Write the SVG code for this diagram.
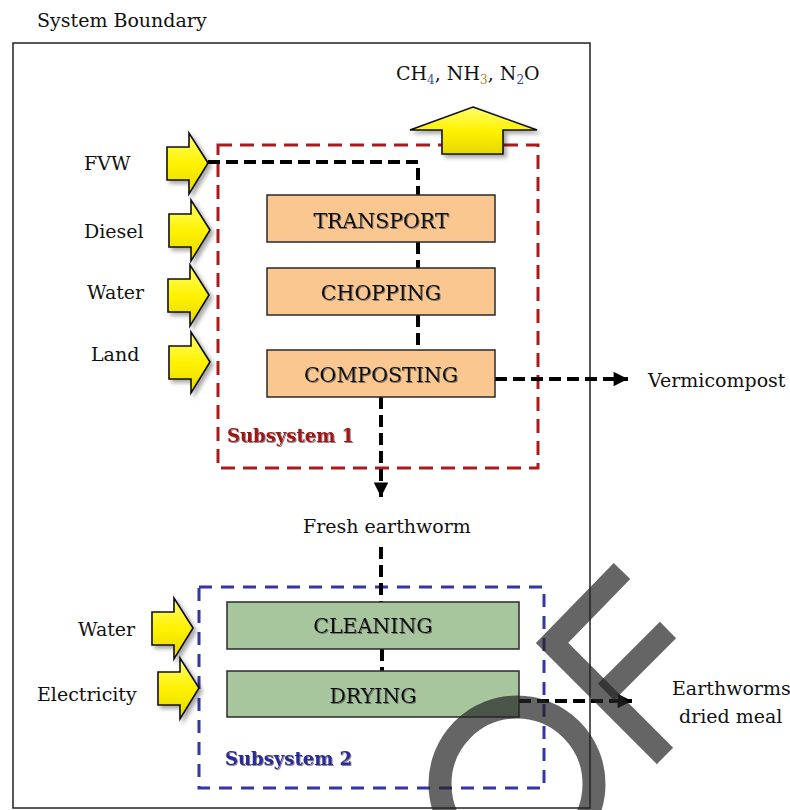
<svg xmlns="http://www.w3.org/2000/svg" width="790" height="810" viewBox="0 0 790 810">
<style>
.lbl{font-family:"DejaVu Serif","Liberation Serif",serif;font-size:19px;fill:#111}
.box-t{font-family:"DejaVu Serif","Liberation Serif",serif;font-size:20.5px;fill:#111;text-anchor:middle;filter:url(#tshadow)}
.sub-t{font-family:"DejaVu Serif","Liberation Serif",serif;font-size:18px;font-weight:bold;filter:url(#tshadow)}
.orange{fill:#F9C78F;stroke:#2a2a2a;stroke-width:1.5}
.green{fill:#A8C69D;stroke:#2a2a2a;stroke-width:1.5}
.flow{fill:none;stroke:#000;stroke-width:4;stroke-dasharray:12 6}
.yarrow{fill:url(#yg);stroke:#111;stroke-width:1.6;stroke-linejoin:miter;filter:url(#shadow)}
.wm{fill:none;stroke:#242424;stroke-opacity:0.7;stroke-width:23}
</style>
<defs>
<linearGradient id="yg" x1="0" y1="0" x2="0" y2="1">
<stop offset="0" stop-color="#FFFF70"/>
<stop offset="0.5" stop-color="#FFF200"/>
<stop offset="1" stop-color="#E6D800"/>
</linearGradient>
<filter id="shadow" x="-30%" y="-30%" width="160%" height="160%">
<feDropShadow dx="3" dy="3" stdDeviation="2" flood-color="#000" flood-opacity="0.35"/>
</filter>
<filter id="tshadow" x="-10%" y="-30%" width="120%" height="160%">
<feDropShadow dx="1" dy="1" stdDeviation="0.6" flood-color="#555" flood-opacity="0.7"/>
</filter>
<path id="rarrow" d="M0,0 L-19,-30 L-19,-16 L-41,-16 L-41,17 L-19,17 L-19,31 Z"/>
<marker id="ah" viewBox="0 0 10 10" refX="10" refY="5" markerWidth="4" markerHeight="3.6" orient="auto" markerUnits="strokeWidth">
<path d="M0,0 L10,5 L0,10 Z" fill="#000"/>
</marker>
</defs>

<g id="system-boundary">
<rect x="13" y="43" width="577" height="765" fill="none" stroke="#222" stroke-width="1.5"/>
<text class="lbl" x="37" y="27" font-size="20.5">System Boundary</text>
</g>

<g id="subsystem1">
<rect x="218" y="145" width="320" height="323" fill="none" stroke="#AA1A1A" stroke-width="3" stroke-dasharray="14 8"/>
<text class="sub-t" x="227" y="442" fill="#A01515">Subsystem 1</text>
</g>

<g id="subsystem2">
<rect x="199" y="587" width="345" height="201" fill="none" stroke="#3535A5" stroke-width="3" stroke-dasharray="13 9"/>
<text class="sub-t" x="225" y="765" fill="#2A2A9A">Subsystem 2</text>
</g>

<g id="emissions">
<polygon class="yarrow" points="473,107 537,130 503,130 503,154 442,154 442,130 410,130"/>
<text class="lbl" x="396" y="80" font-size="19.5">CH<tspan font-size="12" dy="4" fill="#3a5aa0">4</tspan><tspan dy="-4">, NH</tspan><tspan font-size="12" dy="4" fill="#c77a2a">3</tspan><tspan dy="-4">, N</tspan><tspan font-size="12" dy="4" fill="#2a4ab0">2</tspan><tspan dy="-4">O</tspan></text>
</g>

<g id="input-fvw">
<use href="#rarrow" class="yarrow" transform="translate(208,163)"/>
<text class="lbl" x="84" y="170">FVW</text>
</g>
<g id="input-diesel">
<use href="#rarrow" class="yarrow" transform="translate(210,230)"/>
<text class="lbl" x="84" y="238">Diesel</text>
</g>
<g id="input-water1">
<use href="#rarrow" class="yarrow" transform="translate(209,295)"/>
<text class="lbl" x="87" y="299">Water</text>
</g>
<g id="input-land">
<use href="#rarrow" class="yarrow" transform="translate(210,362)"/>
<text class="lbl" x="91" y="361">Land</text>
</g>
<g id="input-water2">
<use href="#rarrow" class="yarrow" transform="translate(193,628)"/>
<text class="lbl" x="78" y="636">Water</text>
</g>
<g id="input-electricity">
<use href="#rarrow" class="yarrow" transform="translate(199,688)"/>
<text class="lbl" x="37" y="701">Electricity</text>
</g>

<g id="connectors">
<polyline class="flow" points="208,162 418,162 418,195"/>
<line class="flow" x1="418" y1="242" x2="418" y2="268"/>
<line class="flow" x1="418" y1="315" x2="418" y2="350"/>
<line class="flow" x1="381" y1="397" x2="381" y2="497" marker-end="url(#ah)"/>
<line class="flow" x1="495" y1="379" x2="628" y2="379" marker-end="url(#ah)"/>
<line class="flow" x1="381" y1="547" x2="381" y2="602"/>
<line class="flow" x1="382" y1="649" x2="382" y2="671"/>
<line class="flow" x1="519" y1="701" x2="632" y2="701" marker-end="url(#ah)"/>
</g>

<g id="transport">
<rect class="orange" x="267" y="195" width="228" height="47"/>
<text class="box-t" x="381" y="228">TRANSPORT</text>
</g>
<g id="chopping">
<rect class="orange" x="267" y="268" width="228" height="47"/>
<text class="box-t" x="381" y="300">CHOPPING</text>
</g>
<g id="composting">
<rect class="orange" x="267" y="350" width="228" height="47"/>
<text class="box-t" x="381" y="382">COMPOSTING</text>
</g>
<g id="cleaning">
<rect class="green" x="227" y="602" width="292" height="47"/>
<text class="box-t" x="373" y="633">CLEANING</text>
</g>
<g id="drying">
<rect class="green" x="227" y="671" width="292" height="46"/>
<text class="box-t" x="373" y="703">DRYING</text>
</g>

<g id="output-vermicompost">
<text class="lbl" x="648" y="387" font-size="18.6">Vermicompost</text>
</g>
<g id="output-fresh-earthworm">
<text class="lbl" x="303" y="533" font-size="18.3">Fresh earthworm</text>
</g>
<g id="output-dried-meal">
<text class="lbl" x="672" y="695" font-size="17.6">Earthworms</text>
<text class="lbl" x="679" y="723" font-size="17.6">dried meal</text>
</g>

<g id="watermark">
<circle class="wm" cx="517" cy="784" r="77"/>
<polyline class="wm" points="622,571 552,643 665,756" stroke-linejoin="miter"/>
<line class="wm" x1="668" y1="630" x2="606" y2="692"/>
</g>
</svg>
